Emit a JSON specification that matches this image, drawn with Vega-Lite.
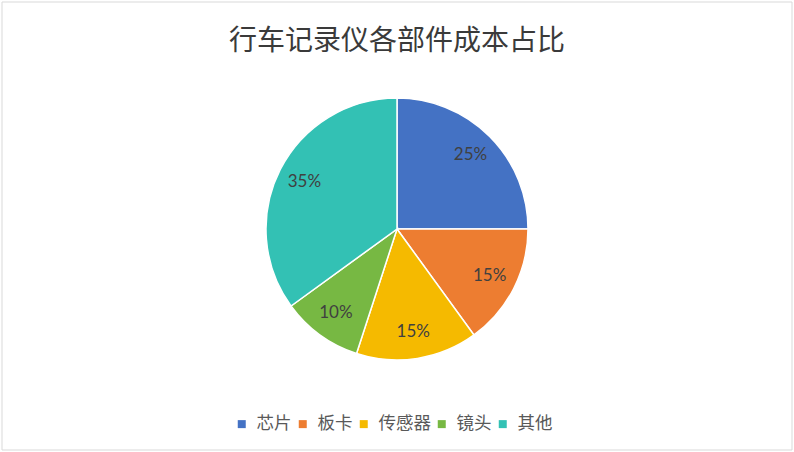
{
  "$schema": "https://vega.github.io/schema/vega-lite/v6.json",
  "autosize": {"type": "fit", "contains": "padding"},
  "width": 794,
  "height": 452,
  "padding": 1,
  "background": "white",
  "title": {
    "text": "行车记录仪各部件成本占比",
    "font": "Noto Sans CJK SC",
    "fontSize": 28,
    "fontWeight": "normal",
    "color": "#3A3A3A",
    "anchor": "middle",
    "offset": -54
  },
  "data": {
    "values": [
      {"part": "芯片", "share": 0.25, "idx": 1},
      {"part": "板卡", "share": 0.15, "idx": 2},
      {"part": "传感器", "share": 0.15, "idx": 3},
      {"part": "镜头", "share": 0.10, "idx": 4},
      {"part": "其他", "share": 0.35, "idx": 5}
    ]
  },
  "layer": [
    {
      "data": {"values": [{}]},
      "mark": {"type": "rect", "fill": null, "stroke": "#D9D9D9", "strokeWidth": 1}
    },
    {
      "mark": {"type": "arc", "radius": 131, "yOffset": 3, "stroke": "white", "strokeWidth": 1.5},
      "encoding": {
        "theta": {"field": "share", "type": "quantitative", "stack": true},
        "order": {"field": "idx", "type": "quantitative"},
        "color": {
          "field": "part",
          "type": "nominal",
          "sort": ["芯片", "板卡", "传感器", "镜头", "其他"],
          "scale": {
            "domain": ["芯片", "板卡", "传感器", "镜头", "其他"],
            "range": ["#4472C4", "#ED7D31", "#F5BA00", "#77B843", "#33C1B4"]
          },
          "legend": {
            "title": null,
            "orient": "none",
            "direction": "horizontal",
            "legendX": 231,
            "legendY": 413,
            "padding": 0,
            "symbolType": "square",
            "symbolSize": 64,
            "symbolStrokeWidth": 0,
            "labelFont": "Noto Sans CJK SC",
            "labelFontSize": 17.5,
            "labelColor": "#595959",
            "labelOffset": 6,
            "columnPadding": 2
          }
        }
      }
    },
    {
      "mark": {"type": "text", "radius": 104, "yOffset": 3, "font": "Lato", "fontSize": 17, "color": "#404040"},
      "encoding": {
        "theta": {"field": "share", "type": "quantitative", "stack": true},
        "order": {"field": "idx", "type": "quantitative"},
        "text": {"field": "share", "type": "quantitative", "format": ".0%"}
      }
    }
  ],
  "config": {
    "view": {"stroke": null}
  }
}
